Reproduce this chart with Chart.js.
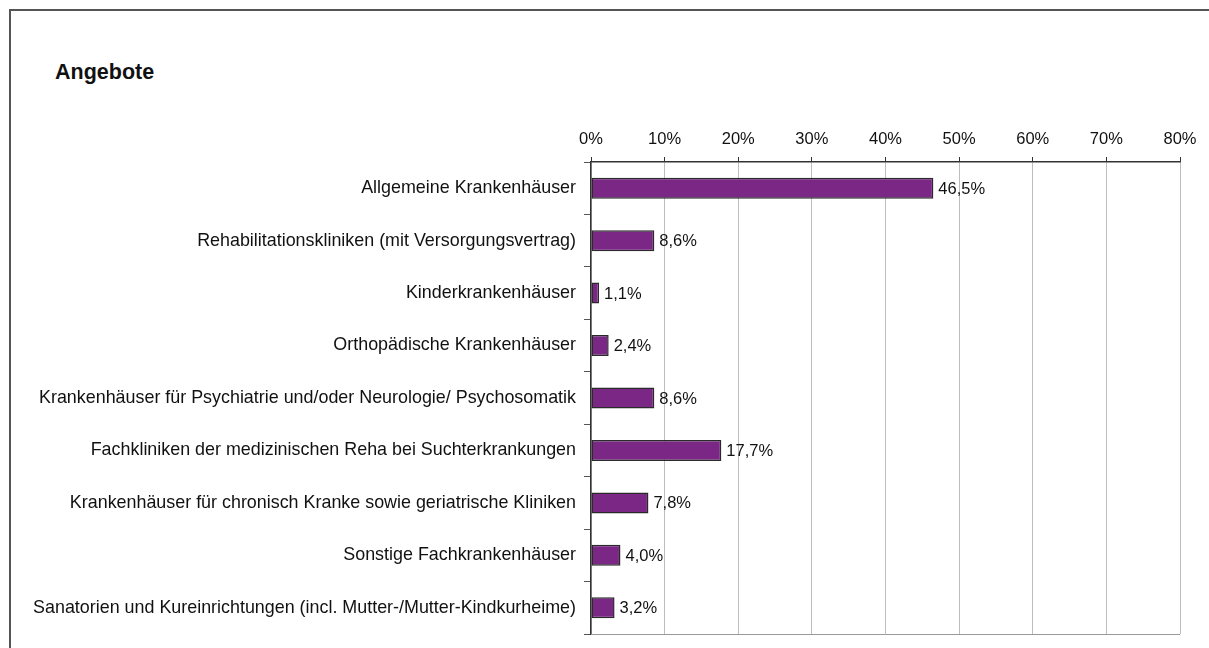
<!DOCTYPE html>
<html>
<head>
<meta charset="utf-8">
<script src="https://cdn.jsdelivr.net/npm/chart.js@4.4.1/dist/chart.umd.min.js"></script>
<style>
  html, body { margin: 0; padding: 0; background: #fff; }
  #wrap { position: relative; width: 1209px; height: 648px; overflow: hidden; }
  #frame { position: absolute; left: 9px; top: 9px; width: 1300px; height: 700px;
           border-left: 2px solid #555; border-top: 2px solid #555; }
  #title { position: absolute; left: 55px; top: 60px; line-height: 21px;
           font: bold 21.5px "Liberation Sans", Arial, sans-serif; color: #111; }
  canvas { position: absolute; left: 0; top: 0; }
</style>
</head>
<body>
<div id="wrap">
  <div id="frame"></div>
  <div id="title">Angebote</div>
  <canvas id="angeboteChart" width="1209" height="648"></canvas>
</div>
<script>
const categories = [
  'Allgemeine Krankenhäuser',
  'Rehabilitationskliniken (mit Versorgungsvertrag)',
  'Kinderkrankenhäuser',
  'Orthopädische Krankenhäuser',
  'Krankenhäuser für Psychiatrie und/oder Neurologie/ Psychosomatik',
  'Fachkliniken der medizinischen Reha bei Suchterkrankungen',
  'Krankenhäuser für chronisch Kranke sowie geriatrische Kliniken',
  'Sonstige Fachkrankenhäuser',
  'Sanatorien und Kureinrichtungen (incl. Mutter-/Mutter-Kindkurheime)'
];
const shares = [46.5, 8.6, 1.1, 2.4, 8.6, 17.7, 7.8, 4.0, 3.2];
const axisMin = 0;
const axisMax = 80;
const axisStep = 10;

const fontFamily = '"Liberation Sans", Arial, sans-serif';

// value labels at the end of each bar
const barLabels = {
  id: 'barLabels',
  afterDatasetsDraw(chart) {
    const ctx = chart.ctx;
    const meta = chart.getDatasetMeta(0);
    ctx.save();
    ctx.font = '16.5px ' + fontFamily;
    ctx.fillStyle = '#111';
    ctx.textAlign = 'left';
    ctx.textBaseline = 'middle';
    meta.data.forEach((bar, i) => {
      const txt = shares[i].toFixed(1).replace('.', ',') + '%';
      ctx.fillText(txt, bar.x + 5, bar.y + 1);
    });
    ctx.restore();
  }
};

// light line closing the plot at the bottom
const plotBottom = {
  id: 'plotBottom',
  beforeDatasetsDraw(chart) {
    const { ctx, chartArea } = chart;
    ctx.save();
    ctx.strokeStyle = '#999';
    ctx.lineWidth = 1;
    ctx.beginPath();
    ctx.moveTo(chartArea.left, chartArea.bottom + 0.5);
    ctx.lineTo(chartArea.right, chartArea.bottom + 0.5);
    ctx.stroke();
    ctx.restore();
  }
};

new Chart(document.getElementById('angeboteChart').getContext('2d'), {
  type: 'bar',
  data: {
    labels: categories,
    datasets: [{
      data: shares,
      backgroundColor: '#7B2786',
      borderColor: '#2a2a2a',
      borderWidth: 1.5,
      borderSkipped: false,
      categoryPercentage: 1,
      barPercentage: 0.4
    }]
  },
  options: {
    indexAxis: 'y',
    responsive: false,
    animation: false,
    layout: { padding: { left: 0, top: 100, right: 29, bottom: 14 } },
    plugins: {
      legend: { display: false },
      tooltip: { enabled: false },
      title: { display: false }
    },
    scales: {
      x: {
        position: 'top',
        min: axisMin,
        max: axisMax,
        afterFit(scale) {
          scale.height = 62;
          scale.paddingLeft = 0;
          scale.paddingRight = 0;
        },
        ticks: {
          stepSize: axisStep,
          padding: 8,
          color: '#111',
          font: { family: fontFamily, size: 16.5 },
          callback: v => v + '%'
        },
        grid: {
          color: '#bdbdbd',
          lineWidth: 1,
          tickLength: 5,
          tickColor: '#333'
        },
        border: { color: '#333', width: 1.5 }
      },
      y: {
        afterFit(scale) {
          scale.width = 591;
          scale.paddingTop = 0;
          scale.paddingBottom = 0;
        },
        ticks: {
          padding: 8,
          color: '#111',
          font: { family: fontFamily, size: 17.9 }
        },
        grid: {
          offset: true,
          drawOnChartArea: false,
          tickLength: 7,
          tickColor: '#555'
        },
        border: { color: '#333', width: 1.5 }
      }
    }
  },
  plugins: [barLabels, plotBottom]
});
</script>
</body>
</html>
